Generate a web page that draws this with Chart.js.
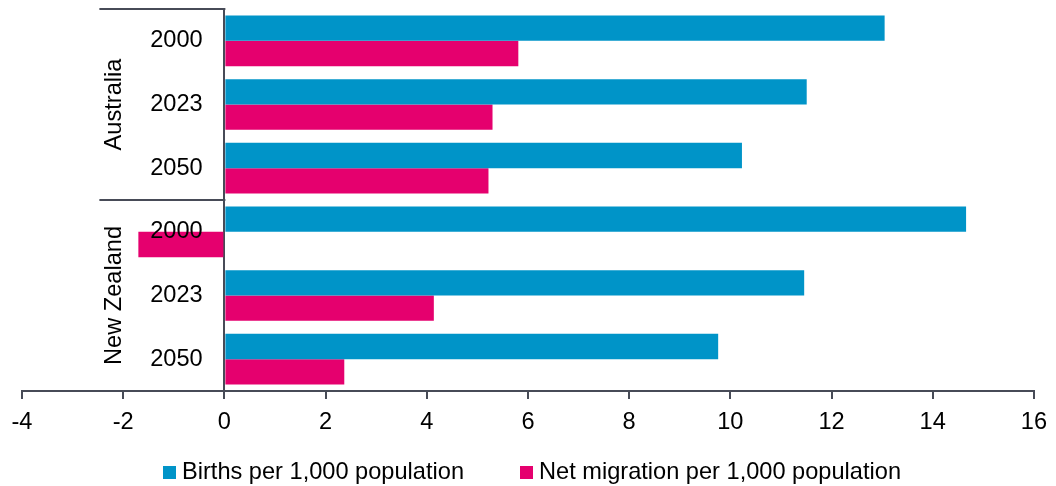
<!DOCTYPE html>
<html>
<head>
<meta charset="utf-8">
<title>Births and net migration</title>
<script src="https://cdn.jsdelivr.net/npm/chart.js@4.4.1/dist/chart.umd.min.js"></script>
<style>
  html, body { margin: 0; padding: 0; background: #fff; }
  #wrap { width: 1056px; height: 486px; }
</style>
</head>
<body>
<div id="wrap"><canvas id="chart"></canvas></div>
<script>
// ========== DATA ========== //
const groups = ["Australia", "New Zealand"];
const years = ["2000", "2023", "2050", "2000", "2023", "2050"];
const births = [13.05, 11.51, 10.23, 14.66, 11.46, 9.76];
const migration = [5.81, 5.30, 5.22, -1.70, 4.14, 2.37];
const xTicks = [-4, -2, 0, 2, 4, 6, 8, 10, 12, 14, 16];

// ========== STYLE ========== //
const BLUE = "#0094c8";
const PINK = "#e5006e";
const AXIS = "#474b57";
const FONT = { family: "'Liberation Sans', Arial, sans-serif", size: 23.6 };
const YEAR_LABEL_AT = -0.43;   // year labels sit just left of the zero line

// country names + separator lines left of the year labels
const groupLabels = {
  id: "groupLabels",
  afterDraw(chart) {
    const ctx = chart.ctx;
    const x = chart.scales.x, y = chart.scales.y;
    const x0 = x.getPixelForValue(0);
    const per = years.length / groups.length;

    ctx.save();
    ctx.strokeStyle = AXIS;
    ctx.lineWidth = 2;
    for (let g = 0; g <= groups.length; g++) {
      let yy = Math.round(y.getPixelForValue(g * per - 0.5));
      ctx.beginPath();
      ctx.moveTo(x0 - 125, yy);
      ctx.lineTo(x0 + 1, yy);
      ctx.stroke();
    }

    ctx.fillStyle = "#000";
    ctx.font = FONT.size + "px " + FONT.family;
    ctx.textAlign = "center";
    ctx.textBaseline = "middle";
    groups.forEach((name, g) => {
      let yc = (y.getPixelForValue(g * per - 0.5) + y.getPixelForValue((g + 1) * per - 0.5)) / 2;
      ctx.save();
      ctx.translate(x0 - 110, yc);
      ctx.rotate(-Math.PI / 2);
      ctx.fillText(name, 0, 0);
      ctx.restore();
    });
    ctx.restore();
  }
};

// legend row under the axis, built from the datasets
const legendRow = {
  id: "legendRow",
  afterDraw(chart) {
    const ctx = chart.ctx;
    const sets = chart.data.datasets;
    const box = 13, toText = 6, gap = 56, cx = 532, cy = 472;

    ctx.save();
    ctx.font = FONT.size + "px " + FONT.family;
    ctx.textBaseline = "middle";
    const widths = sets.map(d => box + toText + ctx.measureText(d.label).width);
    const total = widths.reduce((a, b) => a + b, 0) + gap * (sets.length - 1);
    let left = cx - total / 2;
    sets.forEach((d, i) => {
      ctx.fillStyle = d.backgroundColor;
      ctx.fillRect(Math.round(left), cy - 6, box, box);
      ctx.fillStyle = "#000";
      ctx.fillText(d.label, left + box + toText, cy);
      left += widths[i] + gap;
    });
    ctx.restore();
  }
};

new Chart(document.getElementById("chart"), {
  type: "bar",
  data: {
    labels: years,
    datasets: [
      { label: "Births per 1,000 population", data: births, backgroundColor: BLUE, borderWidth: 0 },
      { label: "Net migration per 1,000 population", data: migration, backgroundColor: PINK, borderWidth: 0 }
    ]
  },
  options: {
    indexAxis: "y",
    responsive: true,
    maintainAspectRatio: false,
    devicePixelRatio: 1,
    animation: false,
    datasets: { bar: { barPercentage: 1, categoryPercentage: 0.795 } },
    layout: { padding: { left: 22, right: 21, top: 9, bottom: 55 } },
    scales: {
      x: {
        min: -4,
        max: 16,
        afterBuildTicks: s => { s.ticks = xTicks.map(v => ({ value: v })); },
        afterFit: s => { s.height = 40; },
        grid: {
          // only the zero line runs through the plot
          color: c => (c.tick && c.tick.value === 0 ? AXIS : "rgba(0,0,0,0)"),
          tickColor: AXIS,
          tickLength: 8,
          lineWidth: 2
        },
        border: { color: AXIS, width: 2 },
        ticks: { color: "#000", font: FONT, padding: 9, maxRotation: 0 }
      },
      y: {
        type: "category",
        position: { x: YEAR_LABEL_AT },
        afterFit: s => { s.paddingTop = 0; s.paddingBottom = 0; },
        grid: { display: false },
        border: { display: false },
        // z above 0 puts the year labels on top of the bars
        ticks: { color: "#000", font: FONT, padding: 0, z: 1 }
      }
    },
    plugins: {
      tooltip: { enabled: false },
      legend: { display: false }
    }
  },
  plugins: [groupLabels, legendRow]
});
</script>
</body>
</html>
